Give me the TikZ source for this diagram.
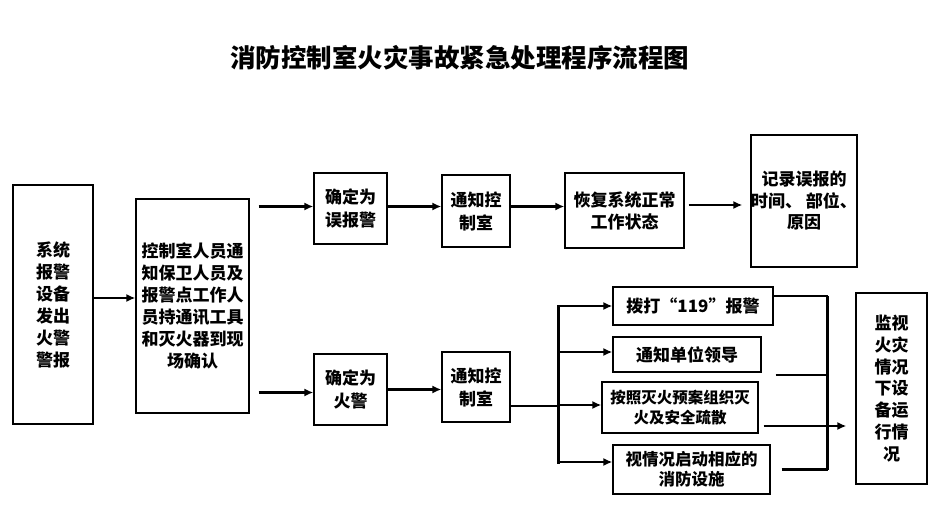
\documentclass[tikz,border=0pt]{standalone}
\usepackage{fontspec}
\setmainfont{Noto Sans CJK SC}
\usetikzlibrary{arrows.meta}
\begin{document}
\begin{tikzpicture}[x=1pt, y=-1pt,
    box/.style={draw, line width=1.2pt, align=center, inner sep=0pt, font=\bfseries\fontsize{17}{22}\selectfont},
    arr/.style={-{Latex[length=9pt,width=8pt]}, line width=2.8pt},
    line/.style={line width=2.8pt},
    trunk/.style={line width=3.4pt}]
  \useasboundingbox (0,0) rectangle (943,524);
  \node[font=\bfseries\fontsize{25.5}{30}\selectfont] (title) at (459.5,58) {消防控制室火灾事故紧急处理程序流程图};
  % left column
  \node[box, minimum width=80pt, minimum height=239pt] (sys) at (53,304.5) {系统\\报警\\设备\\发出\\火警\\警报};
  \node[box, minimum width=113pt, minimum height=214pt] (staff) at (192.5,306) {控制室人员通\\知保卫人员及\\报警点工作人\\员持通讯工具\\和灭火器到现\\场确认};
  % false alarm row
  \node[box, minimum width=73pt, minimum height=71pt, font=\bfseries\fontsize{17}{23}\selectfont] (fa) at (350.5,208.5) {确定为\\误报警};
  \node[box, minimum width=68pt, minimum height=72pt, font=\bfseries\fontsize{17}{23}\selectfont] (n1) at (476,211) {通知控\\制室};
  \node[box, minimum width=119pt, minimum height=75pt] (rs) at (624.5,210.5) {恢复系统正常\\工作状态};
  \node[box, minimum width=106pt, minimum height=132pt, font=\bfseries\fontsize{17}{21.5}\selectfont] (rec) at (804,201) {记录误报的\\时间、 部位、\\原因};
  % fire row
  \node[box, minimum width=73pt, minimum height=71pt, font=\bfseries\fontsize{17}{23}\selectfont] (fire) at (350.5,389.5) {确定为\\火警};
  \node[box, minimum width=68pt, minimum height=70pt, font=\bfseries\fontsize{17}{23}\selectfont] (n2) at (476,387) {通知控\\制室};
  \node[box, minimum width=160pt, minimum height=38pt] (call) at (693,306) {拨打“119”报警};
  \node[box, minimum width=148pt, minimum height=35pt] (lead) at (687,354.5) {通知单位领导};
  \node[box, minimum width=156pt, minimum height=51pt, font=\bfseries\fontsize{15.5}{20}\selectfont] (plan) at (680,407.5) {按照灭火预案组织灭\\火及安全疏散};
  \node[box, minimum width=157pt, minimum height=49pt, font=\bfseries\fontsize{16.5}{20}\selectfont] (fac) at (691.5,469.5) {视情况启动相应的\\消防设施};
  \node[box, minimum width=71pt, minimum height=191pt, font=\bfseries\fontsize{17}{21.7}\selectfont] (mon) at (891.5,388.5) {监视\\火灾\\情况\\下设\\备运\\行情\\况};
  % connectors
  \draw[arr] ([yshift=6.5pt]sys.east) -- ([yshift=6.5pt]sys.east -| staff.west);
  \draw[arr, shorten <=9pt] ([yshift=2pt]staff.east |- fa.west) -- ([yshift=2pt]fa.west);
  \draw[arr, shorten <=9pt] ([yshift=-3pt]staff.east |- fire.west) -- ([yshift=-3pt]fire.west);
  \draw[arr] ([yshift=2pt]fa.east) -- ([yshift=2pt]fa.east -| n1.west);
  \draw[arr] ([yshift=4.5pt]n1.east) -- ([yshift=4.5pt]n1.east -| rs.west);
  \draw[arr, shorten <=4pt, shorten >=8pt] ([yshift=5.5pt]rs.east) -- ([yshift=5.5pt]rs.east -| rec.west);
  \draw[arr] (fire.east) -- (fire.east -| n2.west);
  \draw[line] ([yshift=-19pt]n2.east) -- ++(48,0) coordinate (split);
  \draw[trunk] ([yshift=1pt]split |- call.west) -- ([yshift=6pt]split |- fac.west);
  \foreach \b/\d in {call/0, lead/2.5, plan/2.5, fac/7.5}
    \draw[arr] ([yshift=\d pt]split |- \b.west) -- ([yshift=\d pt]\b.west);
  \draw[line] ([yshift=10pt]call.east) -- ++(54,0) coordinate (join);
  \draw[trunk] (join) -- (join |- fac.east);
  \draw[line] ([xshift=14pt,yshift=-20.5pt]lead.east) -- ([yshift=-20.5pt]lead.east -| join);
  \draw[arr, shorten <=5pt, shorten >=9pt] ([yshift=-18.5pt]plan.east) -- ([yshift=-18.5pt]plan.east -| mon.west);
  \draw[line, shorten <=11pt] (fac.east) -- (fac.east -| join);
\end{tikzpicture}
\end{document}
